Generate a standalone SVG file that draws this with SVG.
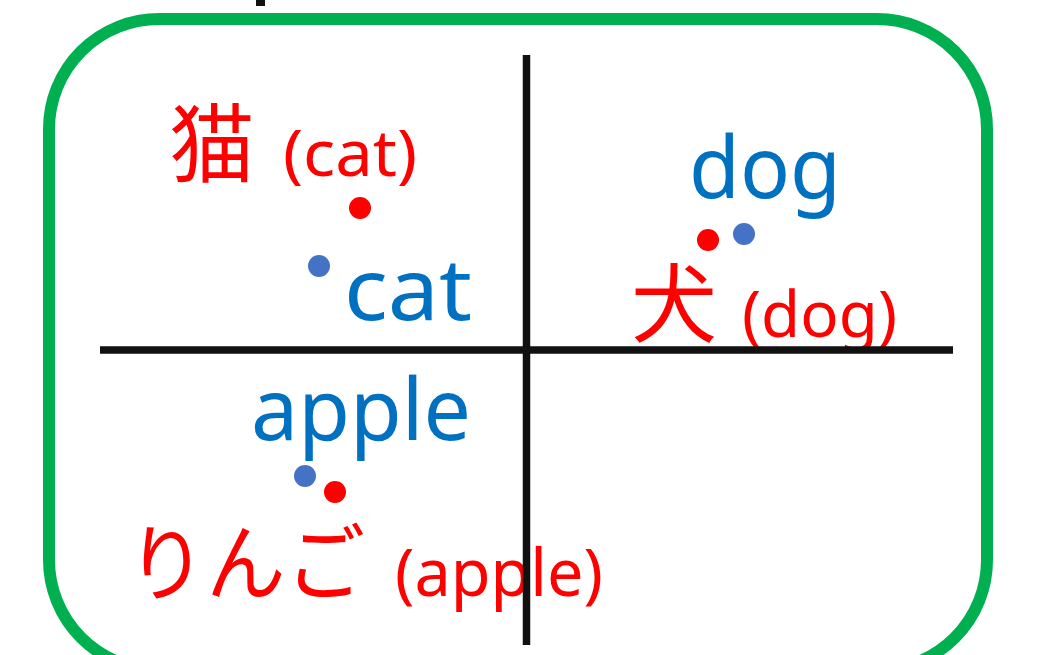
<svg xmlns="http://www.w3.org/2000/svg" width="1037" height="655" viewBox="0 0 1037 655">
  <style>
    .frame { fill: none; stroke: #00B050; stroke-width: 12; }
    .axis { stroke: #111111; stroke-width: 7.5; }
    .en { font-family: "Noto Sans", "Open Sans", "Liberation Sans", sans-serif; fill: #0070C0; }
    .ja { font-family: "Noto Sans", "Noto Sans CJK JP", sans-serif; fill: #FF0000; }
    .cjk { font-family: "Noto Sans CJK JP", sans-serif; fill: #FF0000; }
    .dot-ja { fill: #FF0000; }
    .dot-en { fill: #4472C4; }
  </style>
  <rect width="1037" height="655" fill="#FFFFFF"/>
  <rect x="256" y="0" width="9" height="6" fill="#111111"/>
  <rect class="frame" x="49" y="19" width="938" height="651" rx="110" ry="110"/>

  <g id="node-cat-ja">
    <text class="cjk" x="169" y="176" font-size="86">猫</text>
    <text class="ja" x="283" y="176" font-size="64" textLength="134" lengthAdjust="spacingAndGlyphs">(cat)</text>
    <circle class="dot-ja" cx="360" cy="208" r="11"/>
  </g>
  <g id="node-cat-en">
    <text class="en" x="344" y="320" font-size="86" textLength="128" lengthAdjust="spacingAndGlyphs">cat</text>
    <circle class="dot-en" cx="319" cy="266" r="11"/>
  </g>
  <g id="node-dog-en">
    <text class="en" x="689" y="198" font-size="86" textLength="152" lengthAdjust="spacingAndGlyphs">dog</text>
    <circle class="dot-en" cx="744" cy="234" r="11"/>
  </g>
  <g id="node-dog-ja">
    <text class="cjk" x="631" y="336" font-size="86">犬</text>
    <text class="ja" x="742" y="337" font-size="64" textLength="155" lengthAdjust="spacingAndGlyphs">(dog)</text>
    <circle class="dot-ja" cx="708" cy="240" r="11"/>
  </g>
  <g id="node-apple-en">
    <text class="en" x="251" y="440" font-size="86" textLength="220" lengthAdjust="spacingAndGlyphs">apple</text>
    <circle class="dot-en" cx="305" cy="476" r="11"/>
  </g>
  <g id="node-apple-ja">
    <text class="cjk" x="127" y="594" font-size="84" textLength="238" lengthAdjust="spacingAndGlyphs">りんご</text>
    <text class="ja" x="395" y="596" font-size="65" textLength="208" lengthAdjust="spacingAndGlyphs">(apple)</text>
    <circle class="dot-ja" cx="335" cy="492" r="11"/>
  </g>

  <g id="connectors">
    <line class="axis" x1="526.5" y1="55" x2="526.5" y2="645"/>
    <line class="axis" x1="100" y1="350" x2="953" y2="350"/>
  </g>
</svg>
